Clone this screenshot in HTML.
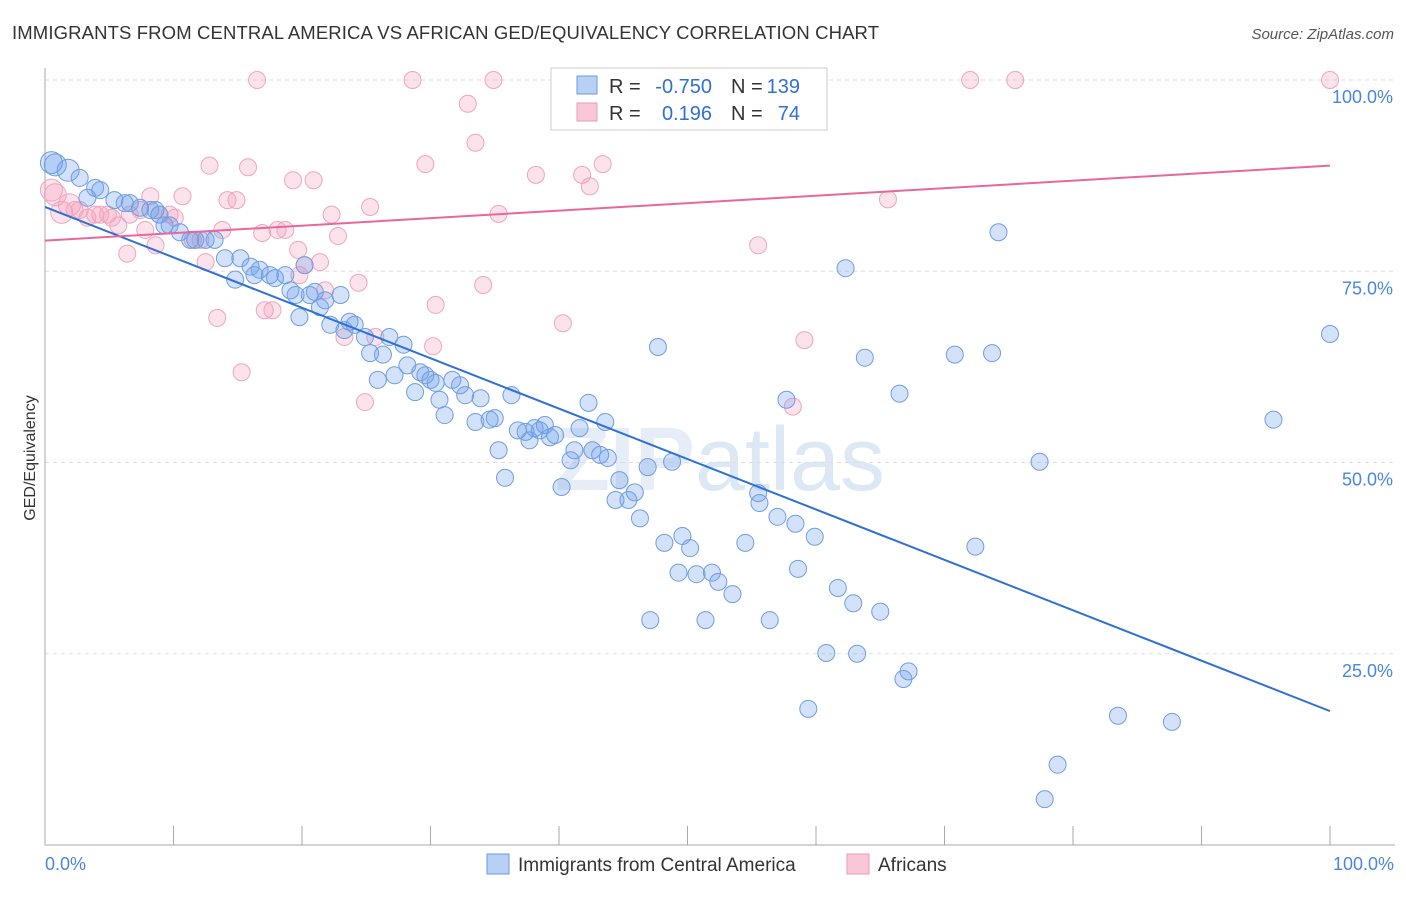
<!DOCTYPE html>
<html><head><meta charset="utf-8"><style>
body{margin:0;background:#fff;font-family:"Liberation Sans",sans-serif;}
svg text{font-family:"Liberation Sans",sans-serif;}
</style></head><body>
<svg id="chart" width="1406" height="892" xmlns="http://www.w3.org/2000/svg">
<text x="12" y="39" font-size="18.5" fill="#333" textLength="867">IMMIGRANTS FROM CENTRAL AMERICA VS AFRICAN GED/EQUIVALENCY CORRELATION CHART</text>
<text x="1394" y="39" font-size="15" fill="#555" font-style="italic" text-anchor="end">Source: ZipAtlas.com</text>
<text x="35" y="458" font-size="16" fill="#333" text-anchor="middle" transform="rotate(-90 35 458)">GED/Equivalency</text>
<text x="720" y="490" font-size="90" fill="#e6edf6" text-anchor="middle" font-weight="bold">ZIP<tspan font-weight="normal" fill="#dde8f5">atlas</tspan></text>
<g id="grid"></g><g id="axes"></g><g id="pts"></g><g id="trend"></g>
<g>
<rect x="551" y="68" width="276" height="62" fill="#fff" stroke="#ccc"/>
<rect x="577" y="76" width="20" height="18" fill="#b8d0f4" stroke="#6b9be0"/>
<rect x="577" y="103" width="20" height="18" fill="#f9c8d8" stroke="#ec9ab5"/>
<text x="609" y="93" font-size="20" fill="#333">R =</text>
<text x="712" y="93" font-size="20" fill="#2f6fd6" text-anchor="end">-0.750</text>
<text x="731" y="93" font-size="20" fill="#333">N =</text>
<text x="800" y="93" font-size="20" fill="#2f6fd6" text-anchor="end">139</text>
<text x="609" y="120" font-size="20" fill="#333">R =</text>
<text x="712" y="120" font-size="20" fill="#2f6fd6" text-anchor="end">0.196</text>
<text x="731" y="120" font-size="20" fill="#333">N =</text>
<text x="800" y="120" font-size="20" fill="#2f6fd6" text-anchor="end">74</text>
</g>
<g>
<rect x="487" y="854" width="22" height="20" fill="#b8d0f4" stroke="#6b9be0"/>
<text x="518" y="871" font-size="19" fill="#333">Immigrants from Central America</text>
<rect x="847" y="854" width="22" height="20" fill="#f9c8d8" stroke="#ec9ab5"/>
<text x="878" y="871" font-size="19" fill="#333">Africans</text>
</g>
</svg>
<script>
const blueX=[0.5,0.8,1.8,2.7,3.3,3.9,4.3,5.4,6.2,6.6,7.4,8.2,8.6,8.9,9.3,9.7,10.5,11.3,11.7,12.5,13.2,14.0,14.8,15.2,16.0,16.3,16.7,17.5,17.9,18.7,19.1,19.5,19.8,20.2,20.6,21.0,21.4,21.8,22.2,23.0,23.3,23.7,24.1,24.9,25.3,25.9,26.3,26.8,27.2,27.9,28.2,28.8,29.2,29.6,30.0,30.4,30.7,31.1,31.7,32.3,32.7,33.5,33.9,34.6,35.0,35.3,35.8,36.3,36.8,37.4,37.7,38.1,38.5,38.9,39.3,39.7,40.2,40.9,41.2,41.6,42.3,42.6,43.2,43.6,43.8,44.4,44.7,45.4,45.9,46.3,46.9,47.1,47.7,48.2,48.8,49.3,49.6,50.2,50.7,51.4,51.9,52.4,53.5,54.5,55.5,55.6,56.4,57.0,57.7,58.4,58.6,59.4,59.9,60.8,61.7,62.3,62.9,63.2,63.8,65.0,66.5,66.8,67.2,70.8,72.4,73.7,74.2,77.4,77.8,78.8,83.5,87.7,95.6,100,54.5,54.1];
const blueY=[89.2,88.9,88.2,87.2,84.6,85.9,85.6,84.3,83.9,83.9,83.3,83.0,83.0,82.4,81.0,81.0,80.1,79.1,79.1,79.1,79.1,76.7,73.9,76.7,75.6,74.5,75.2,74.5,74.1,74.5,72.5,71.9,69.0,75.8,71.9,72.3,70.3,71.2,68.0,71.9,67.3,68.4,68.0,66.4,64.3,60.8,64.1,66.4,61.4,65.4,62.7,59.2,61.8,61.4,60.8,60.4,58.2,56.2,60.8,60.1,58.8,55.3,58.4,55.6,55.8,51.6,48.0,58.8,54.2,54.0,52.9,54.5,54.2,54.9,53.3,53.6,46.8,50.3,51.6,54.5,57.8,51.6,51.0,55.3,50.6,45.1,47.7,45.1,46.1,42.7,49.4,29.4,65.1,39.5,50.1,35.6,40.4,38.8,35.4,29.4,35.6,34.4,32.8,39.5,46.0,44.7,29.4,42.9,58.2,42.0,36.1,17.8,40.3,25.1,33.6,75.4,31.6,25.0,63.7,30.5,59.0,21.7,22.7,64.1,39.0,64.3,80.1,50.1,6.0,10.5,16.9,16.1,55.6,66.8,100,100];
const pinkX=[0.5,0.8,1.3,1.9,2.3,2.7,3.3,3.9,4.3,4.9,5.2,5.7,6.4,6.6,7.4,7.8,8.2,8.6,8.9,9.7,10.1,10.7,11.5,12.1,12.5,12.8,13.4,13.8,14.2,14.9,15.3,15.8,16.5,16.9,17.1,17.7,18.1,18.7,19.3,19.7,19.8,20.2,20.9,21.4,21.8,22.3,22.8,23.3,24.4,24.9,25.3,25.7,28.6,29.6,30.2,30.4,32.9,33.5,34.1,34.9,35.3,38.2,40.3,41.8,42.4,43.4,54.5,55.5,58.2,59.1,65.6,72.0,75.5,100];
const pinkY=[85.6,85.0,82.7,83.7,83.0,83.0,82.0,82.4,82.4,82.4,82.0,81.0,77.3,82.4,83.0,80.4,84.8,78.4,82.4,82.4,82.0,84.8,79.1,79.1,76.2,88.8,68.9,80.4,84.3,84.3,61.8,88.6,100,80.0,69.9,69.9,80.4,80.4,86.9,77.8,74.5,75.8,86.9,76.2,72.5,82.4,79.6,66.4,73.5,57.9,83.4,66.4,100,89.0,65.2,70.6,96.9,91.8,73.2,100,82.5,87.6,68.2,87.6,86.1,89.0,100,78.4,57.3,66.0,84.4,100,100,100];
const trendStart=[83.4,79.0];
const trendEnd=[17.5,88.8];
const xTicks=[0,10,20,30,40,50,60,70,80,90,100];
const yTicks=[25,50,75,100];
const NS="http://www.w3.org/2000/svg";
const sx=v=>45+v*12.85, sy=v=>845-v*7.65;
function mk(tag,attrs,parent){const e=document.createElementNS(NS,tag);for(const k in attrs)e.setAttribute(k,attrs[k]);document.getElementById(parent).appendChild(e);return e;}
yTicks.forEach(t=>{
 const l=mk('line',{x1:45,x2:1395,y1:sy(t),y2:sy(t),stroke:'#ddd','stroke-dasharray':'4,4'},'grid');
 
 
 const tx=mk('text',{x:1393,y:sy(t)+23,'font-size':18,fill:'#4a86de','text-anchor':'end'},'grid');
 tx.textContent=t.toFixed(1)+'%';
 
 
});
mk('line',{x1:45,x2:45,y1:68,y2:845,stroke:'#aaa'},'axes');
mk('line',{x1:45,x2:1395,y1:845,y2:845,stroke:'#aaa'},'axes');
xTicks.forEach(t=>{
 const l=mk('line',{x1:sx(t),x2:sx(t),y1:826,y2:845,stroke:'#aaa'},'axes');
 
 
});
[[0,'0.0%','start',45],[100,'100.0%','end',1394]].forEach(a=>{
 const tx=mk('text',{x:a[3],y:870,'font-size':18,fill:'#4a86de','text-anchor':a[2]},'axes');
 tx.textContent=a[1];
 
 
});
function pts(X,Y,fill,stroke,name){
 X.forEach((x,i)=>{
  const r=(x<2)?11:8.5;
  const c=mk('circle',{cx:sx(x),cy:sy(Y[i]),r:r,fill:fill,stroke:stroke,'stroke-width':1},'pts');
  
  
 });
}
pts(pinkX,pinkY,'rgba(244,160,190,0.3)','#efa5be','africans-point');
pts(blueX,blueY,'rgba(110,160,235,0.3)','#6f9ee2','central-america-point');
const b=mk('line',{x1:sx(0),y1:sy(trendStart[0]),x2:sx(100),y2:sy(trendEnd[0]),stroke:'#2e6fd8','stroke-width':2},'trend');


const p=mk('line',{x1:sx(0),y1:sy(trendStart[1]),x2:sx(100),y2:sy(trendEnd[1]),stroke:'#e8689a','stroke-width':2},'trend');


</script>
</body></html>
